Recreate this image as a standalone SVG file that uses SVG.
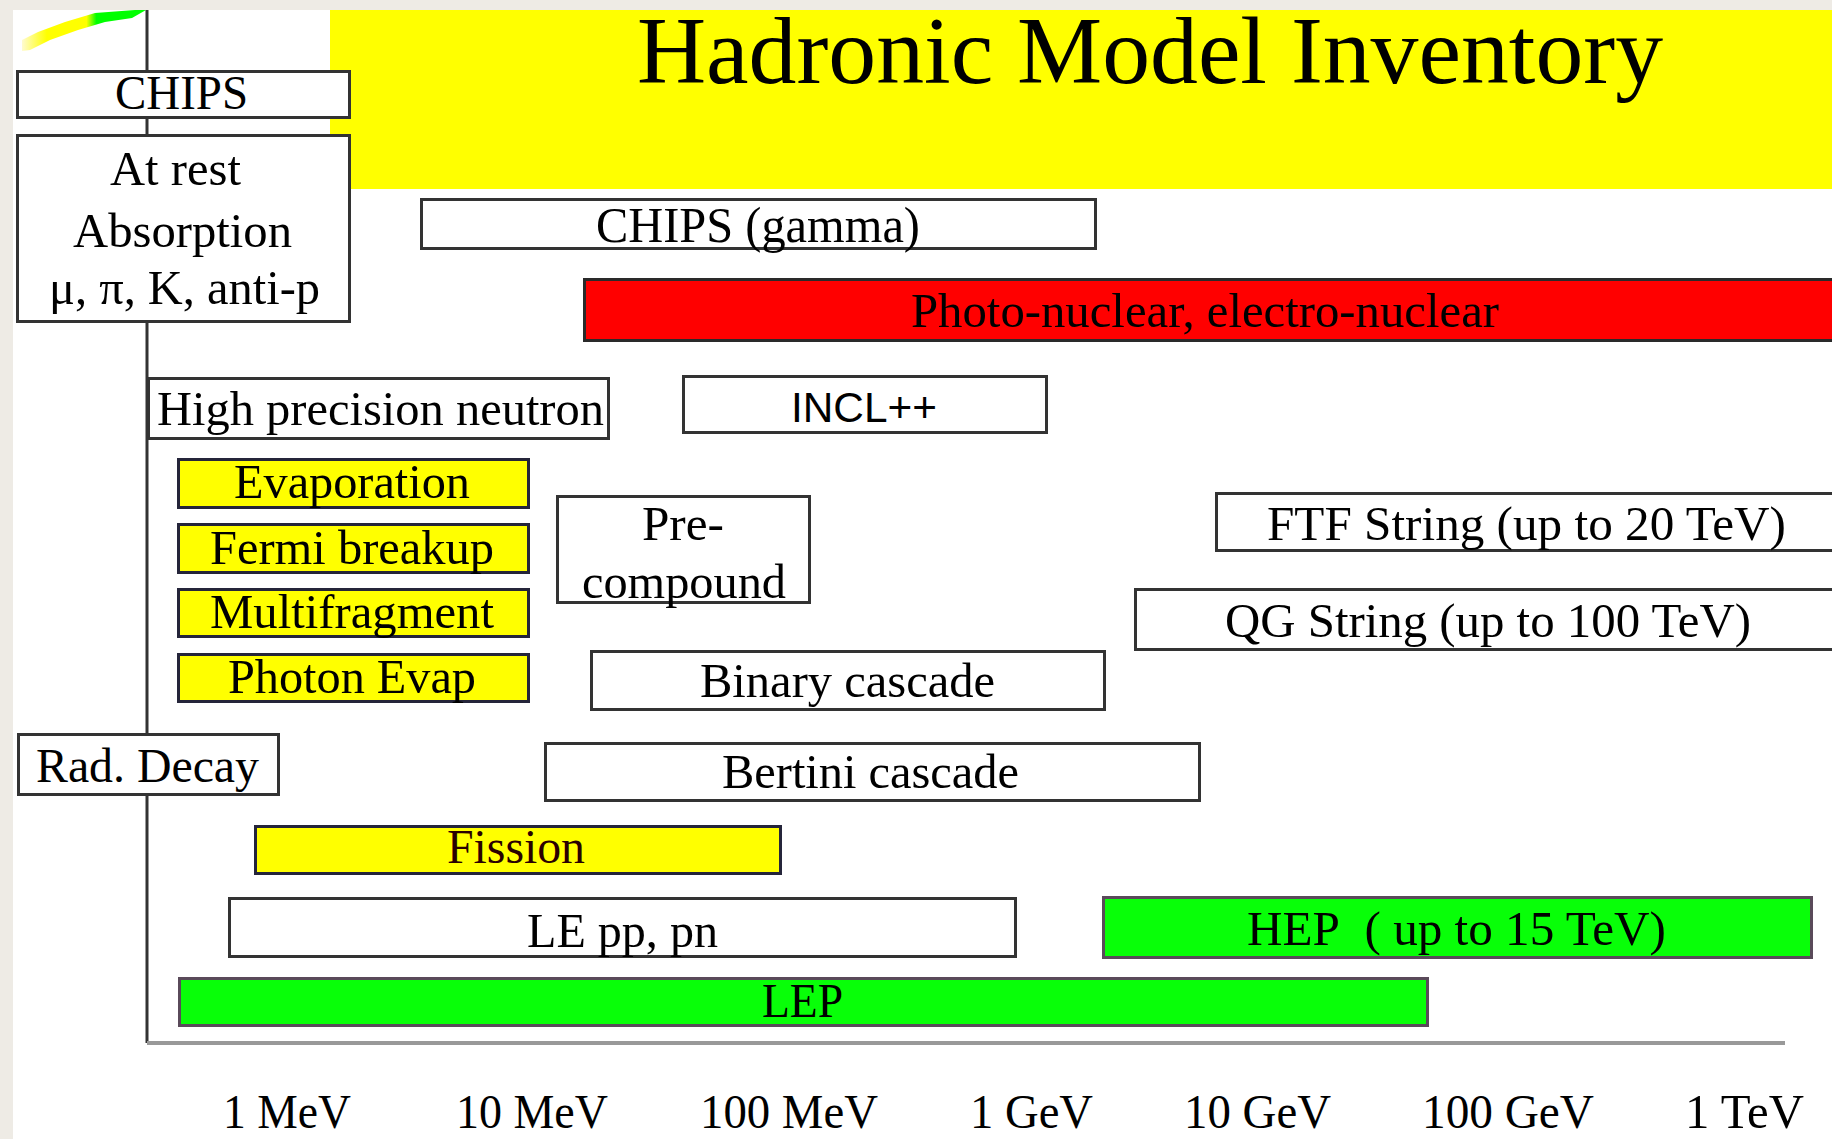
<svg xmlns="http://www.w3.org/2000/svg" width="1832" height="1139" viewBox="0 0 1832 1139">
<defs>
<linearGradient id="streak" x1="0" y1="0" x2="1" y2="0">
<stop offset="0" stop-color="#fffbd0"/>
<stop offset="0.2" stop-color="#ffff00"/>
<stop offset="0.52" stop-color="#ffff00"/>
<stop offset="0.6" stop-color="#00ff00"/>
<stop offset="1" stop-color="#00ff00"/>
</linearGradient>
</defs>
<style>
.t{font-family:"Liberation Serif","Times New Roman",serif;font-size:48px;fill:#000}
.s{font-family:"Liberation Sans",Arial,sans-serif;font-size:43px;fill:#000}
.w{fill:#fff;stroke:#333;stroke-width:3}
.y{fill:#ffff00;stroke:#25253a;stroke-width:3}
.g{fill:#08ff08;stroke:#5a4a5a;stroke-width:3}
.r{fill:#ff0000;stroke:#2a2a2a;stroke-width:3}
</style>
<rect x="0" y="0" width="1832" height="1139" fill="#eeebe5"/>
<rect x="13" y="10" width="1819" height="1129" fill="#ffffff"/>
<rect x="330" y="10" width="1502" height="179" fill="#ffff00"/>
<polygon points="22,40 38,32 65,22 95,13 135,10 146,10 132,18 105,22 78,30 50,40 30,50 22,51" fill="url(#streak)"/>
<text class="t" x="637" y="83" style="font-size:95px" textLength="1026" lengthAdjust="spacingAndGlyphs">Hadronic Model Inventory</text>

<g id="connectors">
<line x1="147" y1="10" x2="147" y2="1043" stroke="#333" stroke-width="3"/>
<line x1="147" y1="1043" x2="1785" y2="1043" stroke="#999" stroke-width="4"/>
</g>

<g id="chips">
<rect class="w" x="17.5" y="71.5" width="332" height="46"/>
<text class="t" x="115" y="109" textLength="133" lengthAdjust="spacingAndGlyphs">CHIPS</text>
</g>
<g id="at-rest">
<rect class="w" x="17.5" y="135.5" width="332" height="186"/>
<text class="t" x="110" y="185" textLength="131" lengthAdjust="spacingAndGlyphs">At rest</text>
<text class="t" x="73" y="247" textLength="219" lengthAdjust="spacingAndGlyphs">Absorption</text>
<text class="t" x="49" y="304" textLength="271" lengthAdjust="spacingAndGlyphs">μ, π, K, anti-p</text>
</g>
<g id="chips-gamma">
<rect class="w" x="421.5" y="199.5" width="674" height="49"/>
<text class="t" x="596" y="242" style="font-size:50px" textLength="324" lengthAdjust="spacingAndGlyphs">CHIPS (gamma)</text>
</g>
<g id="photo-nuclear">
<rect class="r" x="584.5" y="279.5" width="1260" height="61"/>
<text class="t" x="911" y="327" textLength="588" lengthAdjust="spacingAndGlyphs">Photo-nuclear, electro-nuclear</text>
</g>
<g id="hp-neutron">
<rect class="w" x="148.5" y="378.5" width="460" height="60"/>
<text class="t" x="157" y="425" textLength="447" lengthAdjust="spacingAndGlyphs">High precision neutron</text>
</g>
<g id="incl">
<rect class="w" x="683.5" y="376.5" width="363" height="56"/>
<text class="s" x="791" y="422" textLength="146" lengthAdjust="spacingAndGlyphs">INCL++</text>
</g>
<g id="evaporation">
<rect class="y" x="178.5" y="459.5" width="350" height="48"/>
<text class="t" x="234" y="498" textLength="236" lengthAdjust="spacingAndGlyphs">Evaporation</text>
</g>
<g id="fermi">
<rect class="y" x="178.5" y="524.5" width="350" height="48"/>
<text class="t" x="210" y="564" textLength="284" lengthAdjust="spacingAndGlyphs">Fermi breakup</text>
</g>
<g id="multifragment">
<rect class="y" x="178.5" y="589.5" width="350" height="47"/>
<text class="t" x="210" y="628" textLength="284" lengthAdjust="spacingAndGlyphs">Multifragment</text>
</g>
<g id="photon-evap">
<rect class="y" x="178.5" y="654.5" width="350" height="47"/>
<text class="t" x="228" y="693" textLength="248" lengthAdjust="spacingAndGlyphs">Photon Evap</text>
</g>
<g id="precompound">
<rect class="w" x="557.5" y="496.5" width="252" height="106"/>
<text class="t" x="642" y="540" textLength="82" lengthAdjust="spacingAndGlyphs">Pre-</text>
<text class="t" x="582" y="598" textLength="204" lengthAdjust="spacingAndGlyphs">compound</text>
</g>
<g id="ftf">
<rect class="w" x="1216.5" y="493.5" width="630" height="57"/>
<text class="t" x="1267" y="540" textLength="519" lengthAdjust="spacingAndGlyphs">FTF String (up to 20 TeV)</text>
</g>
<g id="qg">
<rect class="w" x="1135.5" y="589.5" width="710" height="60"/>
<text class="t" x="1225" y="637" textLength="526" lengthAdjust="spacingAndGlyphs">QG String (up to 100 TeV)</text>
</g>
<g id="binary">
<rect class="w" x="591.5" y="651.5" width="513" height="58"/>
<text class="t" x="700" y="697" textLength="295" lengthAdjust="spacingAndGlyphs">Binary cascade</text>
</g>
<g id="rad-decay">
<rect class="w" x="18.5" y="734.5" width="260" height="60"/>
<text class="t" x="36" y="782" textLength="223" lengthAdjust="spacingAndGlyphs">Rad. Decay</text>
</g>
<g id="bertini">
<rect class="w" x="545.5" y="743.5" width="654" height="57"/>
<text class="t" x="722" y="788" textLength="297" lengthAdjust="spacingAndGlyphs">Bertini cascade</text>
</g>
<g id="fission">
<rect class="y" x="255.5" y="826.5" width="525" height="47"/>
<text class="t" x="447" y="863" style="fill:#2a0000" textLength="138" lengthAdjust="spacingAndGlyphs">Fission</text>
</g>
<g id="le-pp">
<rect class="w" x="229.5" y="898.5" width="786" height="58"/>
<text class="t" x="527" y="947" textLength="191" lengthAdjust="spacingAndGlyphs">LE pp, pn</text>
</g>
<g id="hep">
<rect class="g" x="1103.5" y="897.5" width="708" height="60"/>
<text class="t" x="1247" y="945" textLength="419" lengthAdjust="spacingAndGlyphs">HEP&#160; ( up to 15 TeV)</text>
</g>
<g id="lep">
<rect class="g" x="179.5" y="978.5" width="1248" height="47"/>
<text class="t" x="762" y="1017" textLength="81" lengthAdjust="spacingAndGlyphs">LEP</text>
</g>

<g id="axis-labels">
<text class="t" x="223" y="1128" textLength="128" lengthAdjust="spacingAndGlyphs">1 MeV</text>
<text class="t" x="456" y="1128" textLength="152" lengthAdjust="spacingAndGlyphs">10 MeV</text>
<text class="t" x="700" y="1128" textLength="178" lengthAdjust="spacingAndGlyphs">100 MeV</text>
<text class="t" x="970" y="1128" textLength="123" lengthAdjust="spacingAndGlyphs">1 GeV</text>
<text class="t" x="1184" y="1128" textLength="147" lengthAdjust="spacingAndGlyphs">10 GeV</text>
<text class="t" x="1422" y="1128" textLength="172" lengthAdjust="spacingAndGlyphs">100 GeV</text>
<text class="t" x="1685" y="1128" textLength="119" lengthAdjust="spacingAndGlyphs">1 TeV</text>
</g>
</svg>
